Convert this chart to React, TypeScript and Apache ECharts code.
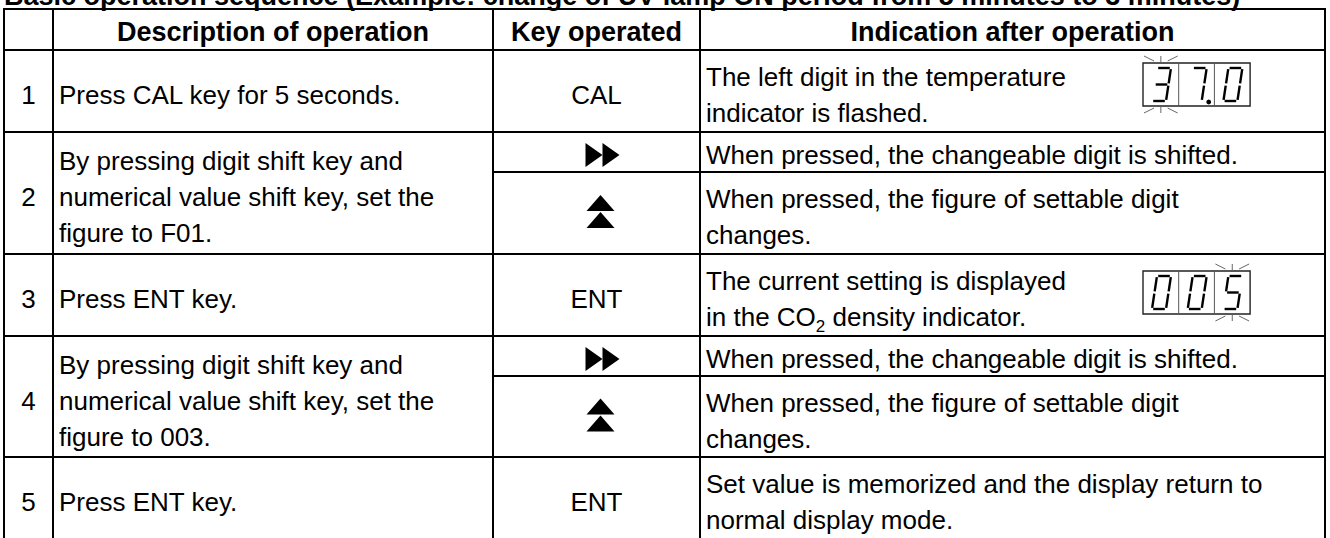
import React, { useEffect, useRef } from "react";
import * as echarts from "echarts";

// ---------- content ----------
const titleText =
  "Basic operation sequence (Example: change of UV lamp ON period from 5 minutes to 3 minutes)";
const headerLabels = ["", "Description of operation", "Key operated", "Indication after operation"];
const stepNumbers = ["1", "2", "3", "4", "5"];
const descriptions = [
  "Press CAL key for 5 seconds.",
  "By pressing digit shift key and\nnumerical value shift key, set the\nfigure to F01.",
  "Press ENT key.",
  "By pressing digit shift key and\nnumerical value shift key, set the\nfigure to 003.",
  "Press ENT key.",
];
// "shift" = digit shift key (double right arrow), "up" = numerical value shift key (double up arrow)
const keysOperated = [["CAL"], ["shift", "up"], ["ENT"], ["shift", "up"], ["ENT"]];
const indications = [
  ["The left digit in the temperature\nindicator is flashed."],
  ["When pressed, the changeable digit is shifted.", "When pressed, the figure of settable digit\nchanges."],
  ["The current setting is displayed\nin the CO{sub|2} density indicator."],
  ["When pressed, the changeable digit is shifted.", "When pressed, the figure of settable digit\nchanges."],
  ["Set value is memorized and the display return to\nnormal display mode."],
];
const displayRow1Digits = ["3", "7", "0"];
const displayRow1Dot = 1;
const displayRow1Flash = 0;
const displayRow3Digits = ["0", "0", "5"];
const displayRow3Flash = 2;

// ---------- layout ----------
const FF = '"Liberation Sans", Arial, Helvetica, sans-serif';
const colX = [4, 53, 493, 700, 1325];
const rowY = [9, 50, 132, 254, 336, 457, 539];
const SUB_H = 40;
const LH = 36;
const TXT_OFF = 4;

const SEGS: Record<string, string[]> = {
  "0": ["a", "b", "c", "d", "e", "f"],
  "3": ["a", "b", "c", "d", "g"],
  "5": ["a", "f", "g", "c", "d"],
  "7": ["a", "b", "c"],
};

function line(x1: number, y1: number, x2: number, y2: number, w = 2, c = "#000") {
  return { type: "line", shape: { x1, y1, x2, y2 }, style: { stroke: c, lineWidth: w }, silent: true };
}

function text(t: string, x: number, y: number, opts: any = {}) {
  return {
    type: "text",
    x,
    y,
    silent: true,
    style: {
      text: t,
      fill: "#000",
      font: `${opts.bold ? "bold " : ""}${opts.size || 26}px ${FF}`,
      textAlign: opts.align || "left",
      textVerticalAlign: "middle",
      lineHeight: opts.lh || LH,
      rich: opts.rich,
    },
  };
}

function digitSegments(d: string, bx: number, by: number) {
  const P = (u: number, v: number) => [bx + 9 + u * 14 + (1 - v) * 5, by + 5 + v * 33];
  const segDefs: Record<string, number[][]> = {
    a: [[0, 0], [1, 0]],
    b: [[1, 0], [1, 0.5]],
    c: [[1, 0.5], [1, 1]],
    d: [[0, 1], [1, 1]],
    e: [[0, 0.5], [0, 1]],
    f: [[0, 0], [0, 0.5]],
    g: [[0, 0.5], [1, 0.5]],
  };
  return (SEGS[d] || []).map((s) => {
    const [p, q] = segDefs[s];
    const A = P(p[0], p[1]);
    const B = P(q[0], q[1]);
    const dx = B[0] - A[0];
    const dy = B[1] - A[1];
    const len = Math.hypot(dx, dy);
    const g = 1.2 / len;
    return {
      type: "line",
      silent: true,
      shape: { x1: A[0] + dx * g, y1: A[1] + dy * g, x2: B[0] - dx * g, y2: B[1] - dy * g },
      style: { stroke: "#000", lineWidth: 2.4, lineCap: "butt" },
    };
  });
}

function flashMarks(bx: number, by: number, w: number, h: number) {
  const c = "#666";
  const cx = bx + w / 2;
  const b = by + h;
  return [
    line(cx, by - 7, cx, by - 1, 1, c),
    line(bx + 1, by - 7, bx + 11, by - 2, 1, c),
    line(bx + w - 11, by - 2, bx + w - 1, by - 7, 1, c),
    line(cx, b + 1, cx, b + 7, 1, c),
    line(bx + 1, b + 7, bx + 11, b + 2, 1, c),
    line(bx + w - 11, b + 2, bx + w - 1, b + 7, 1, c),
  ];
}

function display(digits: string[], bx: number, by: number, dotIdx: number, flashIdx: number) {
  const w = 35.7;
  const h = 43;
  const els: any[] = [];
  els.push({
    type: "rect",
    silent: true,
    shape: { x: bx, y: by, width: w * digits.length, height: h },
    style: { fill: "#fff", stroke: "#222", lineWidth: 1.4 },
  });
  for (let i = 1; i < digits.length; i++) els.push(line(bx + w * i, by, bx + w * i, by + h, 1, "#555"));
  digits.forEach((d, i) => {
    els.push(...digitSegments(d, bx + w * i, by));
    if (i === dotIdx)
      els.push({ type: "circle", silent: true, shape: { cx: bx + w * i + 30, cy: by + 39, r: 2.4 }, style: { fill: "#000" } });
    if (i === flashIdx) els.push(...flashMarks(bx + w * i, by, w, h));
  });
  return els;
}

function rightArrows(cx: number, cy: number) {
  return [
    { type: "polygon", silent: true, shape: { points: [[cx - 17, cy - 12], [cx, cy], [cx - 17, cy + 12]] }, style: { fill: "#000" } },
    { type: "polygon", silent: true, shape: { points: [[cx, cy - 12], [cx + 17, cy], [cx, cy + 12]] }, style: { fill: "#000" } },
  ];
}

function upArrows(cx: number, cy: number) {
  return [
    { type: "polygon", silent: true, shape: { points: [[cx, cy - 16], [cx + 14, cy], [cx - 14, cy]] }, style: { fill: "#000" } },
    { type: "polygon", silent: true, shape: { points: [[cx, cy + 1], [cx + 14, cy + 17], [cx - 14, cy + 17]] }, style: { fill: "#000" } },
  ];
}

function buildGraphics() {
  const els: any[] = [];
  // title (cut off at top, as in the reference)
  els.push(text(titleText, 4, -4, { bold: true, size: 27 }));

  // header
  const hy = (rowY[0] + rowY[1]) / 2 + 2;
  for (let c = 1; c < 4; c++) {
    els.push(text(headerLabels[c], (colX[c] + colX[c + 1]) / 2, hy, { bold: true, size: 27, align: "center" }));
  }

  const keyCx = (colX[2] + colX[3]) / 2;
  for (let r = 0; r < 5; r++) {
    const top = rowY[r + 1];
    const bot = rowY[r + 2];
    const cy = (top + bot) / 2 + TXT_OFF;
    els.push(text(stepNumbers[r], (colX[0] + colX[1]) / 2, cy, { align: "center" }));
    els.push(text(descriptions[r], colX[1] + 6, cy));
    const keys = keysOperated[r];
    const inds = indications[r];
    const subs = keys.length === 2 ? [[top, top + SUB_H], [top + SUB_H, bot]] : [[top, bot]];
    subs.forEach(([st, sb], i) => {
      const scy = (st + sb) / 2;
      const k = keys[i];
      if (k === "shift") els.push(...rightArrows(keyCx + 6, scy + 3));
      else if (k === "up") els.push(...upArrows(keyCx + 4, scy - 2));
      else els.push(text(k, keyCx, scy + TXT_OFF, { align: "center" }));
      els.push(
        text(inds[i], colX[3] + 6, scy + (i === 0 && keys.length === 2 ? 3 : TXT_OFF), {
          rich: { sub: { fontSize: 17, fontFamily: FF, verticalAlign: "bottom", lineHeight: 22, fill: "#000" } },
        })
      );
    });
    if (keys.length === 2) els.push(line(colX[2], top + SUB_H, colX[4], top + SUB_H));
  }

  // displays
  els.push(...display(displayRow1Digits, 1143, 63, displayRow1Dot, displayRow1Flash));
  els.push(...display(displayRow3Digits, 1143, 271, -1, displayRow3Flash));

  // grid lines
  rowY.forEach((y) => els.push(line(colX[0] - 1, y, colX[4] + 1, y)));
  colX.forEach((x) => els.push(line(x, rowY[0], x, rowY[rowY.length - 1])));
  return els;
}

export default function App() {
  const ref = useRef<HTMLDivElement>(null);
  useEffect(() => {
    if (!ref.current) return;
    const chart = echarts.init(ref.current, null, { renderer: "svg" });
    chart.setOption({
      animation: false,
      backgroundColor: "#fff",
      graphic: { elements: buildGraphics() },
    });
    return () => chart.dispose();
  }, []);
  return (
    <div
      ref={ref}
      style={{ position: "fixed", left: 0, top: 0, width: 1330, height: 538, background: "#fff" }}
    />
  );
}
